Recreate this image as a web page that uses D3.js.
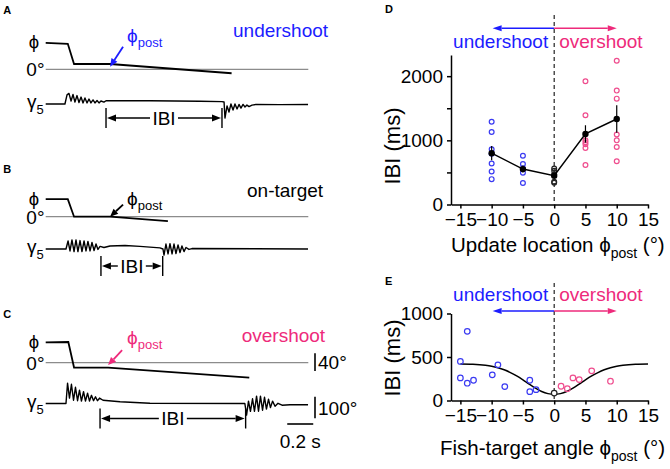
<!DOCTYPE html>
<html>
<head>
<meta charset="utf-8">
<script src="https://cdn.jsdelivr.net/npm/d3@7"></script>
<style>
  body { margin: 0; background: #fff; }
  svg { font-family: "Liberation Sans", Arial, sans-serif; }
</style>
</head>
<body>
<div id="chart"></div>
<script>
// ---------- data ----------
// A-C example traces, [time (ms), angle (deg)]
const phiUnder    = [[0, 60], [170, 58], [218, 12], [495, 12], [1430, -9]];
const phiOnTarget = [[0, 40], [170, 40], [218, 0], [495, 0], [940, -10]];
const phiOver     = [[0, 46], [174, 47], [218, -11], [480, -11], [1566, -34]];

const gammaUnder = [[0,0],[148,0],[164,42],[179,49],[195,14],[210,44],[225,9],[241,39],[256,7],[272,32],[287,5],
  [302,28],[318,5],[333,23],[348,5],[364,19],[379,5],[395,16],[410,5],[425,14],[448,9],[464,15],[802,15],
  [1187,13],[1356,11],[1372,9],[1379,-65],[1395,-9],[1410,-37],[1425,0],[1441,-28],[1456,0],[1472,-23],
  [1487,-2],[1502,-19],[1518,-2],[1533,-14],[1548,-5],[1564,-12],[1587,-5],[1618,-2],[1802,-3],[2018,-2]];
const gammaOnTarget = [[0,0],[156,0],[172,37],[187,-9],[202,42],[218,-12],[233,42],[248,-12],[264,39],[279,-12],
  [295,37],[310,-9],[325,35],[341,-9],[356,30],[372,-7],[387,23],[402,-2],[418,12],[448,7],[495,14],[610,16],
  [725,12],[879,5],[902,0],[910,-28],[925,23],[941,-23],[956,25],[972,-23],[987,23],[1002,-21],[1018,19],
  [1033,-16],[1048,14],[1064,-12],[1079,7],[1102,-2],[1125,2],[2018,0]];
const gammaOver = [[0,0],[156,0],[168,94],[183,25],[198,89],[214,15],[229,75],[245,13],[260,62],[275,11],
  [291,55],[306,11],[322,48],[337,11],[352,38],[368,13],[383,31],[398,13],[414,25],[441,15],[572,8],[802,1],
  [1532,0],[1545,-54],[1560,11],[1575,-36],[1591,22],[1606,-36],[1622,34],[1637,-36],[1652,34],[1668,-31],
  [1683,29],[1698,-26],[1714,20],[1729,-19],[1745,11],[1764,-13],[1787,1],[1818,-8],[1879,-6],[2018,-6]];

const conditions = ["undershoot", "on-target", "overshoot"];
const ibiStart = [464, 425, 418];     // ms
const ibiEnd = [1356, 900, 1538];     // ms
const phiPostTime = [495, 495, 480];  // ms
const phiPostValue = [12, 0, -11];    // deg

// D: IBI vs update location
const dLocation = [-10, -5, 0, 5, 10];
const dMean = [800, 552, 450, 1100, 1333];
const dSem = [110, 55, 40, 135, 213];
const dPoints = [
  [1290, 1130, 860, 790, 640, 515, 395],
  [760, 630, 560, 495, 335],
  [560, 525, 470, 355, 340],
  [1920, 1390, 1000, 970, 940, 880, 615],
  [2240, 1775, 1650, 1090, 1000, 895, 675]
];

// E: IBI vs fish-target angle
const eAngle = [-15, -13.9, -15, -13.9, -12.9, -9.9, -9, -7.9, -3.9, -3.9, -2.9, 0, 1.1, 2.1, 3, 4, 6, 9];
const eIBI = [449, 795, 260, 199, 233, 295, 410, 160, 233, 102, 125, 85, 164, 136, 260, 240, 341, 222];
const fitAngle = [-15, -13, -11, -10, -9, -8, -7, -6, -5, -4, -3, -2, -1, 0, 1, 2, 3, 4, 5, 6, 7, 8, 9, 10, 11, 13, 15];
const fitIBI = [419, 416, 405, 394, 377, 353, 321, 282, 237, 189, 143, 104, 79, 70, 79, 104, 143, 189, 237, 282, 321, 353, 377, 394, 405, 416, 419];

const xTicks = [-15, -10, -5, 0, 5, 10, 15];

// ---------- drawing ----------
const BLUE = "#1c1cff", PINK = "#ee2a7b";
const BLUE_PT = "#3a3af2", PINK_PT = "#ef4d8e";
const condColors = [BLUE, "#000", PINK];
const ptColor = v => v < 0 ? BLUE_PT : (v > 0 ? PINK_PT : "#222");

const svg = d3.select("#chart").append("svg")
  .attr("width", 670).attr("height", 469);

function arrow(g, x1, y1, x2, y2, color, w, hl, hw) {
  const a = Math.atan2(y2 - y1, x2 - x1);
  const bx = x2 - hl * Math.cos(a), by = y2 - hl * Math.sin(a);
  g.append("line").attr("x1", x1).attr("y1", y1).attr("x2", bx).attr("y2", by)
    .attr("stroke", color).attr("stroke-width", w);
  const px = -Math.sin(a) * hw / 2, py = Math.cos(a) * hw / 2;
  g.append("path")
    .attr("d", `M${x2},${y2}L${bx + px},${by + py}L${bx - px},${by - py}Z`)
    .attr("fill", color);
}

function panelLetter(x, y, t) {
  svg.append("text").attr("x", x).attr("y", y).attr("font-size", 11)
    .attr("font-weight", "bold").text(t);
}

// ---- A, B, C ----
const tX = d3.scaleLinear().domain([0, 2000]).range([45.7, 305.7]);

const layout = [
  { letterY: 14,    zeroY: 69.3,  gammaY: 104,   labX: 233,   labY: 37,
    tail: [13, -20], postTxt: [17, -25], ibiY: 14 },
  { letterY: 173.3, zeroY: 216.7, gammaY: 249,   labX: 247,   labY: 196.5,
    tail: [13, -12], postTxt: [17, -12], ibiY: 17 },
  { letterY: 318.3, zeroY: 362.7, gammaY: 403.5, labX: 241.7, labY: 341.5,
    tail: [14, -15], postTxt: [19, -21], ibiY: 15 }
];
const phiTraces = [phiUnder, phiOnTarget, phiOver];
const gammaTraces = [gammaUnder, gammaOnTarget, gammaOver];

layout.forEach((L, i) => {
  const g = svg.append("g");
  panelLetter(3.3, L.letterY, "ABC"[i]);

  const phiY = d3.scaleLinear().domain([0, 40]).range([L.zeroY, L.zeroY - 17.6]);
  const gamY = d3.scaleLinear().domain([0, 100]).range([L.gammaY, L.gammaY - 21.6]);

  // 0 deg reference
  g.append("line").attr("x1", tX(0)).attr("x2", tX(2020))
    .attr("y1", phiY(0)).attr("y2", phiY(0))
    .attr("stroke", "#8c8c8c").attr("stroke-width", 1.3);

  g.append("path").datum(phiTraces[i])
    .attr("d", d3.line().x(d => tX(d[0])).y(d => phiY(d[1])))
    .attr("fill", "none").attr("stroke", "#000").attr("stroke-width", 1.8);

  g.append("path").datum(gammaTraces[i])
    .attr("d", d3.line().x(d => tX(d[0])).y(d => gamY(d[1])))
    .attr("fill", "none").attr("stroke", "#000").attr("stroke-width", 1.4)
    .attr("stroke-linejoin", "round");

  // left labels
  g.append("text").attr("x", 34).attr("y", phiY(phiTraces[i][0][1]) + 5.5)
    .attr("text-anchor", "middle").attr("font-size", 18.5).text("\u03D5");
  g.append("text").attr("x", 44.5).attr("y", phiY(0) + 6.8)
    .attr("text-anchor", "end").attr("font-size", 19).text("0°");
  const gl = g.append("text").attr("x", 27).attr("y", gamY(0) + 4).attr("font-size", 19);
  gl.append("tspan").text("\u03B3");
  gl.append("tspan").attr("font-size", 13).attr("dy", 6).text("5");

  // condition label
  g.append("text").attr("x", L.labX).attr("y", L.labY).attr("font-size", 19)
    .attr("fill", condColors[i]).text(conditions[i]);

  // phi_post arrow
  const tipX = tX(phiPostTime[i]);
  const tipY = (phiY(phiPostValue[i]) + phiY(0)) / 2;
  arrow(g, tipX + L.tail[0], tipY + L.tail[1], tipX, tipY, condColors[i], 1.8, 8, 7);
  const pt = g.append("text").attr("x", tipX + L.postTxt[0]).attr("y", tipY + L.postTxt[1])
    .attr("font-size", 19).attr("fill", condColors[i]);
  pt.append("tspan").text("\u03D5");
  pt.append("tspan").attr("font-size", 13).attr("dy", 5).text("post");

  // IBI bracket
  const x0 = tX(ibiStart[i]), x1 = tX(ibiEnd[i]);
  const yb = L.gammaY + L.ibiY;
  [x0, x1].forEach(x => g.append("line").attr("x1", x).attr("x2", x)
    .attr("y1", yb - 10).attr("y2", yb + 10).attr("stroke", "#000").attr("stroke-width", 1.4));
  const mid = (x0 + x1) / 2;
  const half = 14;
  arrow(g, mid - half, yb, x0 + 1, yb, "#000", 1.4, 9, 7);
  arrow(g, mid + half, yb, x1 - 1, yb, "#000", 1.4, 9, 7);
  g.append("text").attr("x", mid).attr("y", yb + 6.5).attr("text-anchor", "middle")
    .attr("font-size", 19).text("IBI");

  // scale bars on C
  if (i === 2) {
    const sb = "#000";
    g.append("line").attr("x1", 315).attr("x2", 315)
      .attr("y1", phiY(0) - 9.4).attr("y2", phiY(0) - 9.4 + (phiY(0) - phiY(40)))
      .attr("stroke", sb).attr("stroke-width", 1.6);
    g.append("text").attr("x", 318).attr("y", phiY(0) + 6).attr("font-size", 19).text("40°");
    g.append("line").attr("x1", 315).attr("x2", 315)
      .attr("y1", gamY(0) - 6.8).attr("y2", gamY(0) - 6.8 + (gamY(0) - gamY(100)))
      .attr("stroke", sb).attr("stroke-width", 1.6);
    g.append("text").attr("x", 318).attr("y", gamY(0) + 11).attr("font-size", 19).text("100°");
    g.append("line").attr("x1", tX(1858)).attr("x2", tX(2058))
      .attr("y1", 424).attr("y2", 424).attr("stroke", sb).attr("stroke-width", 1.6);
    g.append("text").attr("x", (tX(1858) + tX(2058)) / 2).attr("y", 448)
      .attr("text-anchor", "middle").attr("font-size", 19).text("0.2 s");
  }
});

// ---- D and E ----
function scatterPanel(opts) {
  const g = svg.append("g");
  const x = d3.scaleLinear().domain([-16.5, 15]).range([451, 648]);
  const y = d3.scaleLinear().domain(opts.yDomain).range(opts.yRange);

  const xa = g.append("g").attr("transform", `translate(0,${opts.yRange[0]})`)
    .call(d3.axisBottom(x).tickValues(xTicks).tickSize(4).tickSizeOuter(0).tickPadding(4));
  const ya = g.append("g").attr("transform", "translate(451,0)")
    .call(d3.axisLeft(y).tickValues(opts.yTicks).tickSize(4).tickSizeOuter(0).tickPadding(4)
      .tickFormat(d => opts.yLabels.includes(d) ? d : ""));
  [xa, ya].forEach(a => {
    a.selectAll("path, line").attr("stroke", "#000").attr("stroke-width", 1.5);
    a.selectAll("text").attr("font-size", 19).attr("fill", "#000")
      .attr("font-family", "'Liberation Sans', Arial, sans-serif");
  });

  // zero dashed line
  g.append("line").attr("x1", x(0)).attr("x2", x(0))
    .attr("y1", opts.dashTop).attr("y2", opts.yRange[0])
    .attr("stroke", "#222").attr("stroke-width", 1.2).attr("stroke-dasharray", "4,3");

  // direction arrows + labels
  arrow(g, x(0), opts.arrowY, x(-10) + 1, opts.arrowY, BLUE, 1.5, 9, 6);
  arrow(g, x(0), opts.arrowY, x(10), opts.arrowY, PINK, 1.5, 9, 6);
  g.append("text").attr("x", x(0) - 6).attr("y", opts.textY).attr("text-anchor", "end")
    .attr("font-size", 19).attr("fill", BLUE).text("undershoot");
  g.append("text").attr("x", x(0) + 5).attr("y", opts.textY)
    .attr("font-size", 19).attr("fill", PINK).text("overshoot");

  // axis titles
  g.append("text").attr("transform", `translate(400,${opts.yLabelMid}) rotate(-90)`)
    .attr("text-anchor", "middle").attr("font-size", 22).text("IBI (ms)");
  const xt = g.append("text").attr("x", opts.xLabelX).attr("y", opts.xLabelY).attr("font-size", 20.5);
  xt.append("tspan").text(opts.xLabel + " \u03D5");
  xt.append("tspan").attr("font-size", 14).attr("dy", 6).text("post");
  xt.append("tspan").attr("dy", -6).text(" (°)");

  return { g, x, y };
}

// D
panelLetter(385, 13.3, "D");
const D = scatterPanel({
  yDomain: [0, 2330], yRange: [204.5, 55], yTicks: [0, 500, 1000, 1500, 2000], yLabels: [0, 1000, 2000],
  dashTop: 15, arrowY: 28.3, textY: 48, yLabelMid: 146, xLabel: "Update location",
  xLabelX: 451, xLabelY: 252
});
dLocation.forEach((loc, i) => {
  D.g.append("g").selectAll("circle").data(dPoints[i]).enter().append("circle")
    .attr("cx", D.x(loc)).attr("cy", d => D.y(d)).attr("r", 2.4)
    .attr("fill", "none").attr("stroke", ptColor(loc)).attr("stroke-width", 1.2);
});
D.g.append("g").selectAll("line").data(dLocation).enter().append("line")
  .attr("x1", d => D.x(d)).attr("x2", d => D.x(d))
  .attr("y1", (d, i) => D.y(dMean[i] - dSem[i])).attr("y2", (d, i) => D.y(dMean[i] + dSem[i]))
  .attr("stroke", "#000").attr("stroke-width", 1.2);
D.g.append("path").datum(dLocation.map((l, i) => [l, dMean[i]]))
  .attr("d", d3.line().x(d => D.x(d[0])).y(d => D.y(d[1])))
  .attr("fill", "none").attr("stroke", "#000").attr("stroke-width", 1.5);
D.g.append("g").selectAll("circle").data(dLocation).enter().append("circle")
  .attr("cx", d => D.x(d)).attr("cy", (d, i) => D.y(dMean[i])).attr("r", 3.2).attr("fill", "#000");

// E
panelLetter(385, 285, "E");
const E = scatterPanel({
  yDomain: [0, 1000], yRange: [400.5, 313.5], yTicks: [0, 500, 1000], yLabels: [0, 500, 1000],
  dashTop: 283, arrowY: 311, textY: 301, yLabelMid: 358, xLabel: "Fish-target angle",
  xLabelX: 440, xLabelY: 455
});
E.g.append("path").datum(fitAngle.map((a, i) => [a, fitIBI[i]]))
  .attr("d", d3.line().curve(d3.curveMonotoneX).x(d => E.x(d[0])).y(d => E.y(d[1])))
  .attr("fill", "none").attr("stroke", "#000").attr("stroke-width", 1.5);
E.g.append("g").selectAll("circle").data(eAngle).enter().append("circle")
  .attr("cx", d => E.x(d)).attr("cy", (d, i) => E.y(eIBI[i])).attr("r", 2.8)
  .attr("fill", d => d === 0 ? "#fff" : "none").attr("stroke", d => ptColor(d)).attr("stroke-width", 1.2);
</script>
</body>
</html>
